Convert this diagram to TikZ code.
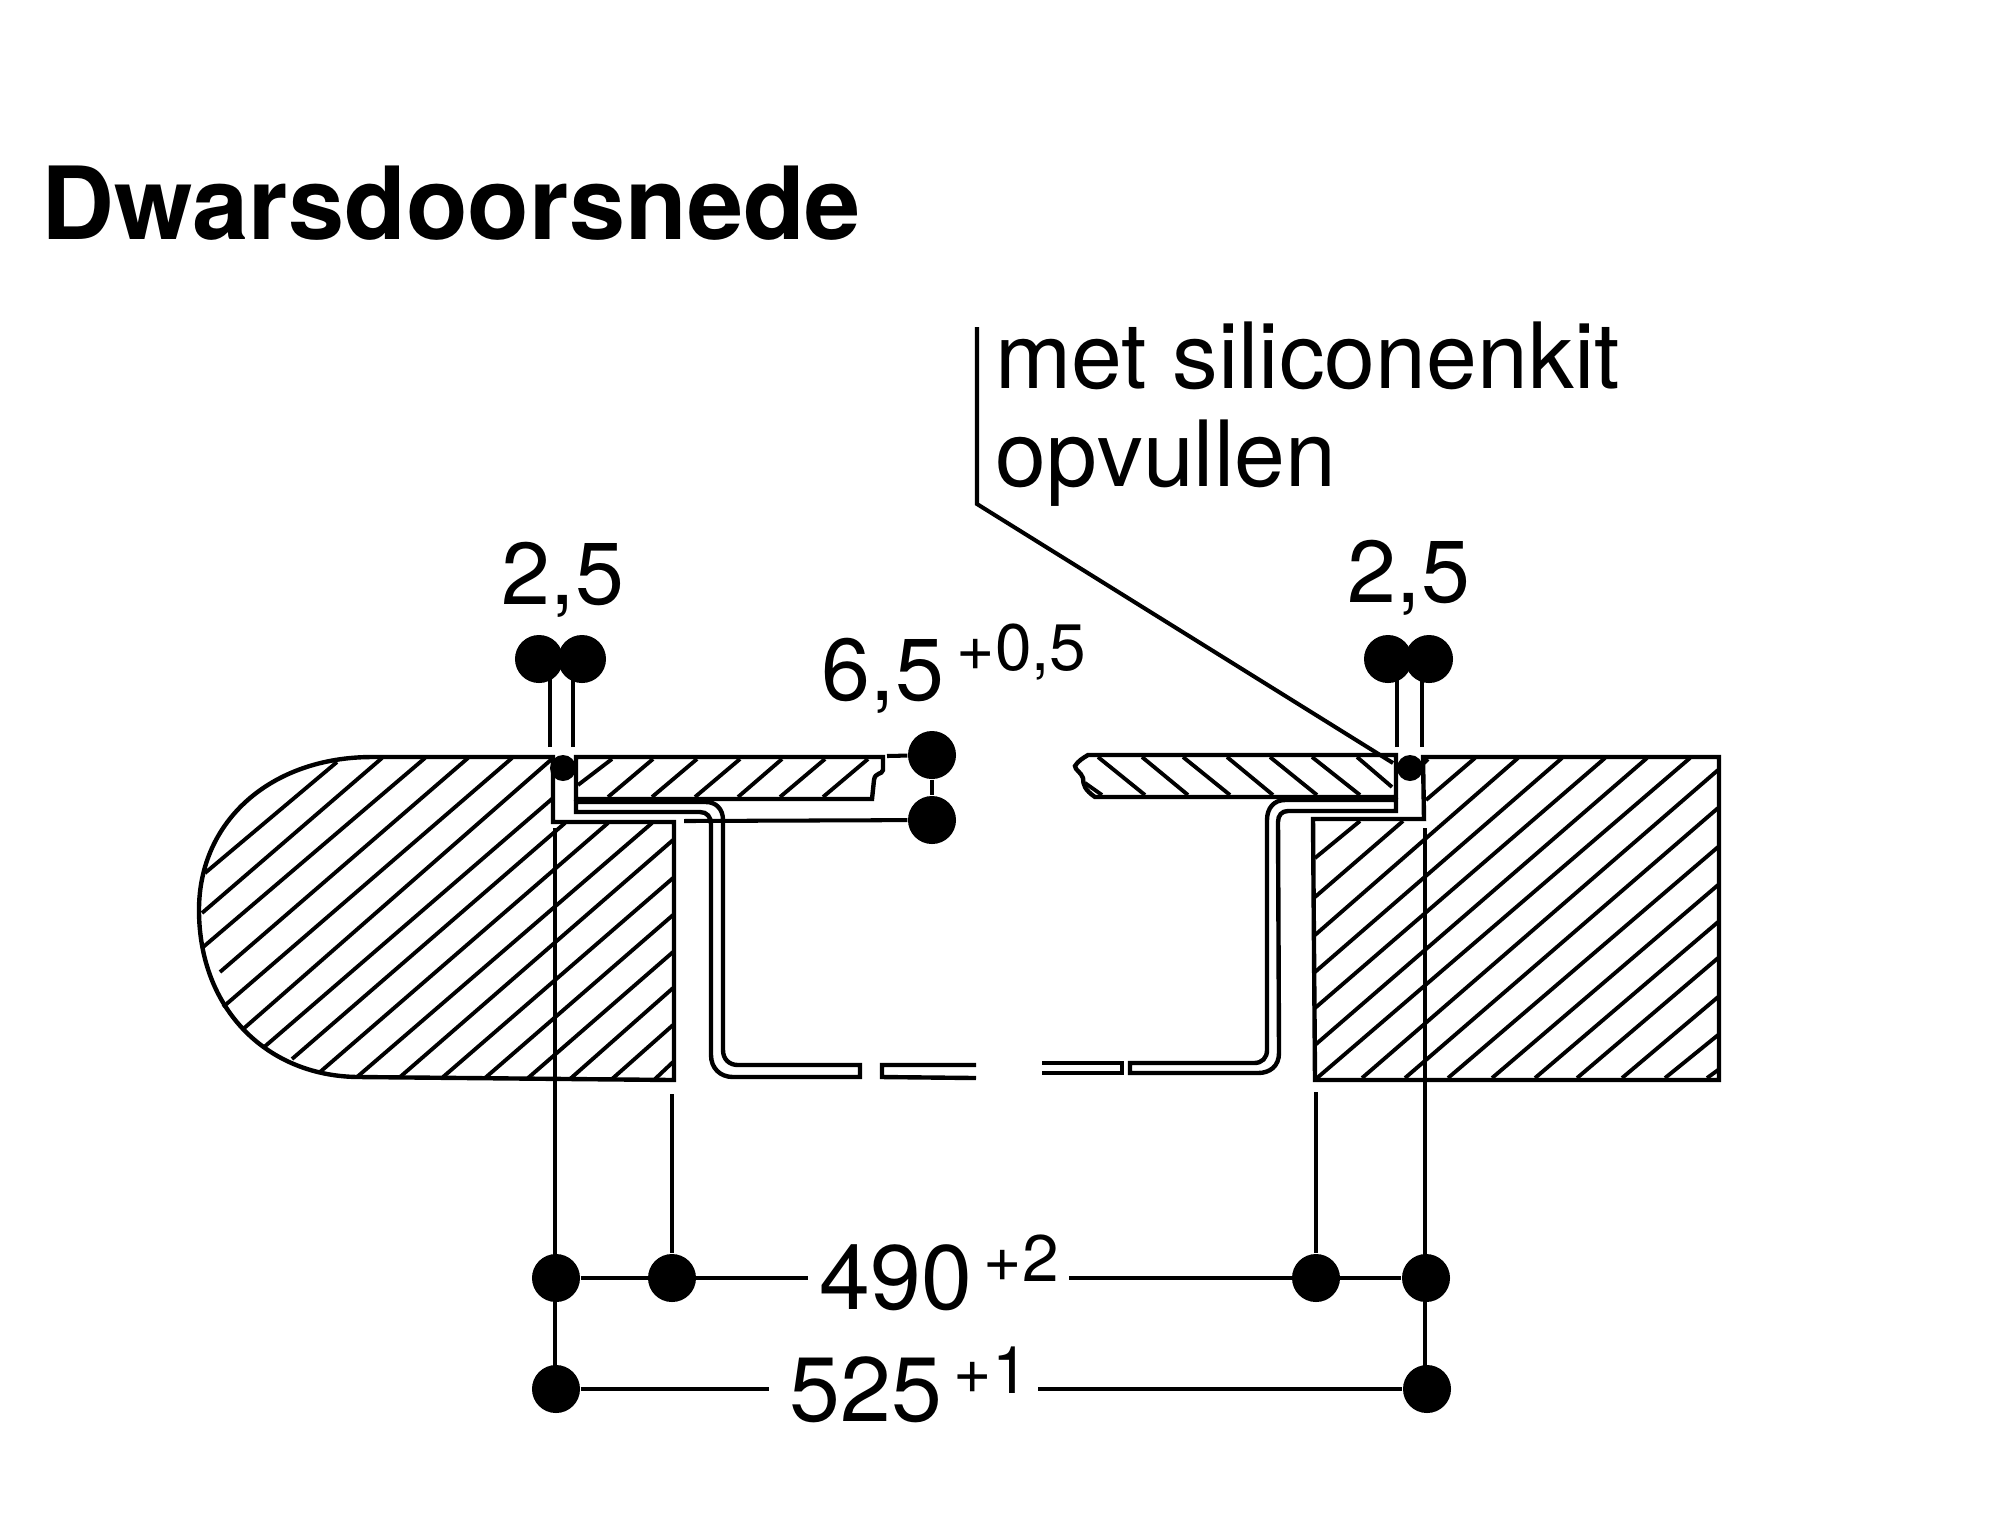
\documentclass[tikz,border=0pt]{standalone}
\usepackage{fontspec}
\setmainfont{TeX Gyre Heros}
\usetikzlibrary{positioning}
\tikzset{
    slab/.style={line width=1.25pt, line join=miter},
    hatchline/.style={line width=1.1pt},
    dimline/.style={line width=1.15pt},
    dimdot/.style={circle, fill=black, minimum size=0.48cm, inner sep=0pt},
    sealdot/.style={circle, fill=black, minimum size=0.26cm, inner sep=0pt},
    dimtext/.style={anchor=base west, inner sep=0pt, font=\fontsize{25}{30}\selectfont},
    widthtext/.style={anchor=base west, inner sep=0pt, font=\fontsize{26}{30}\selectfont},
    tolertext/.style={anchor=base west, inner sep=0pt, font=\fontsize{18.7}{22}\selectfont},
    notetext/.style={anchor=base west, inner sep=0pt, font=\fontsize{26}{30}\selectfont}
}
\begin{document}
\begin{tikzpicture}[x=0.01cm, y=-0.01cm]
    \useasboundingbox (0,0) rectangle (2000,1535);

    % title
    \node[anchor=base west, inner sep=0pt, font=\fontsize{28.7}{34}\selectfont\bfseries] (title) at (41,239) {Dwarsdoorsnede};

    % worktop, left and right
    \draw[slab] (553,757) -- (372,757) .. controls (272,757) and (199,820) .. (199,910)
        .. controls (199,1010) and (268,1077) .. (360,1077) -- (674,1080) -- (674,822) -- (553,822) -- cycle;
    \draw[slab] (1423,757) -- (1719,757) -- (1719,1080) -- (1315,1080) -- (1313,819) -- (1424,819) -- cycle;
    \foreach \xa/\ya/\xb/\yb in {337/762/205/873, 382/758/202/913, 425/758/202/948, 468/758/220/972,
        512/758/223/1007, 553/758/242/1030, 553/798/263/1048, 565/823/292/1059, 608/823/320/1072,
        652/823/357/1077, 673/840/400/1077, 673/878/443/1077, 673/915/485/1078, 673/952/528/1078,
        673/988/570/1079, 673/1025/612/1079, 673/1062/655/1079} {
        \draw[hatchline] (\xa,\ya) -- (\xb,\yb);
    }
    \foreach \xa/\ya/\xb/\yb in {1428/759/1424/763, 1475/758/1426/800, 1518/758/1315/935, 1562/758/1315/972,
        1605/758/1315/1008, 1647/758/1315/1045, 1690/758/1317/1078, 1718/770/1362/1078, 1718/808/1405/1078,
        1718/847/1448/1078, 1718/885/1492/1078, 1718/922/1535/1078, 1718/958/1577/1078, 1718/997/1622/1078,
        1718/1035/1665/1078, 1718/1070/1707/1078, 1360/821/1315/858, 1403/821/1315/897} {
        \draw[hatchline] (\xa,\ya) -- (\xb,\yb);
    }

    % glass panel
    \draw[slab] (576,757) -- (883,757) -- (883,770) .. controls (882,775) and (875,772) .. (874,780) -- (872,799) -- (576,799) -- cycle;
    \draw[slab] (1396,755) -- (1396,797) -- (1095,797) .. controls (1085,790) and (1083,785) .. (1083,778)
        .. controls (1081,772) and (1075,770) .. (1075,766) .. controls (1078,761) and (1083,758) .. (1088,755) -- cycle;
    \foreach \xa/\ya/\xb/\yb in {612/759/578/785, 653/759/608/797, 697/759/652/797, 740/759/695/797,
        782/759/738/797, 825/759/780/797, 868/759/823/797} {
        \draw[hatchline] (\xa,\ya) -- (\xb,\yb);
    }
    \foreach \xa/\ya/\xb/\yb in {1098/757/1145/795, 1142/757/1188/795, 1183/757/1230/795, 1227/757/1273/795,
        1270/757/1317/795, 1312/757/1360/795, 1357/757/1392/787, 1085/783/1102/795} {
        \draw[hatchline] (\xa,\ya) -- (\xb,\yb);
    }

    % sheet metal
    \draw[slab] (576,802) -- (706,802) .. controls (716,802) and (723,809) .. (723,820) -- (723,1050)
        .. controls (723,1059) and (729,1065) .. (738,1065) -- (860,1065) -- (860,1077) -- (733,1077)
        .. controls (720,1077) and (711,1068) .. (711,1055) -- (711,824) .. controls (711,817) and (707,812) .. (700,812) -- (576,812) -- cycle;
    \draw[slab] (976,1065) -- (882,1065) -- (882,1077) -- (976,1078);
    \draw[slab] (1042,1063) -- (1122,1063) -- (1122,1073) -- (1042,1073);
    \draw[slab] (1130,1063) -- (1254,1063) .. controls (1262,1063) and (1267,1058) .. (1267,1050) -- (1267,820)
        .. controls (1267,808) and (1274,800) .. (1285,800) -- (1396,800) -- (1396,811) -- (1288,811)
        .. controls (1282,811) and (1278,815) .. (1278,822) -- (1279,1053) .. controls (1279,1066) and (1270,1073) .. (1258,1073) -- (1130,1073) -- cycle;

    % silicone
    \node[sealdot] (sealL) at (563,768) {};
    \node[sealdot] (sealR) at (1410,768) {};

    % note
    \coordinate (noteTop) at (977,327);
    \coordinate (noteBend) at (977,504);
    \coordinate (noteEnd) at (1393,763);
    \draw[dimline] (noteTop) -- (noteBend) -- (noteEnd);
    \node[notetext] (note1) at (995,388) {met siliconenkit};
    \node[notetext] (note2) at (995,486) {opvullen};

    % gap dimensions
    \node[dimdot] (gapLa) at (539,659) {};
    \node[dimdot] (gapLb) at (582,659) {};
    \node[dimdot] (gapRa) at (1388,659) {};
    \node[dimdot] (gapRb) at (1429,659) {};
    \coordinate (gapLaEnd) at (550,747);
    \coordinate (gapLbEnd) at (573,747);
    \coordinate (gapRaEnd) at (1397,747);
    \coordinate (gapRbEnd) at (1422,747);
    \draw[dimline] (gapLaEnd) -- (gapLaEnd |- gapLa);
    \draw[dimline] (gapLbEnd) -- (gapLbEnd |- gapLb);
    \draw[dimline] (gapRaEnd) -- (gapRaEnd |- gapRa);
    \draw[dimline] (gapRbEnd) -- (gapRbEnd |- gapRb);
    \node[dimtext] (gapLtext) at (501,604) {2,5};
    \node[dimtext] (gapRtext) at (1347,602) {2,5};

    % panel height
    \node[dimdot] (panelTop) at (932,755) {};
    \node[dimdot] (panelBot) at (932,820) {};
    \coordinate (panelTopEnd) at (887,756);
    \coordinate (panelBotEnd) at (684,821);
    \draw[dimline] (panelTop) -- (panelBot);
    \draw[dimline] (panelTopEnd) -- (panelTop);
    \draw[dimline] (panelBotEnd) -- (panelBot);
    \node[dimtext] (panelText) at (821,700) {6,5};
    \node[tolertext] (panelTol) at (956,670) {+0,5};

    % width dimensions
    \node[dimdot] (wA) at (556,1278) {};
    \node[dimdot] (wB) at (672,1278) {};
    \node[dimdot] (wC) at (1316,1278) {};
    \node[dimdot] (wD) at (1426,1278) {};
    \node[dimdot] (vA) at (556,1389) {};
    \node[dimdot] (vB) at (1427,1389) {};
    \coordinate (wAEnd) at (555,828);
    \coordinate (wBEnd) at (672,1094);
    \coordinate (wCEnd) at (1316,1092);
    \coordinate (wDEnd) at (1425,828);
    \coordinate (wGapL) at (808,1278);
    \coordinate (wGapR) at (1069,1278);
    \coordinate (vGapL) at (769,1389);
    \coordinate (vGapR) at (1038,1389);
    \draw[dimline] (wAEnd) -- (wAEnd |- vA);
    \draw[dimline] (wDEnd) -- (wDEnd |- vB);
    \draw[dimline] (wBEnd) -- (wB);
    \draw[dimline] (wCEnd) -- (wC);
    \draw[dimline] (wA) -- (wGapL);
    \draw[dimline] (wGapR) -- (wD);
    \draw[dimline] (vA) -- (vGapL);
    \draw[dimline] (vGapR) -- (vB);
    \node[widthtext] (wText) at (819,1309) {490};
    \node[tolertext] (wTol) at (983,1281) {+2};
    \node[widthtext] (vText) at (789,1421) {525};
    \node[tolertext] (vTol) at (953,1393) {+1};
\end{tikzpicture}
\end{document}
